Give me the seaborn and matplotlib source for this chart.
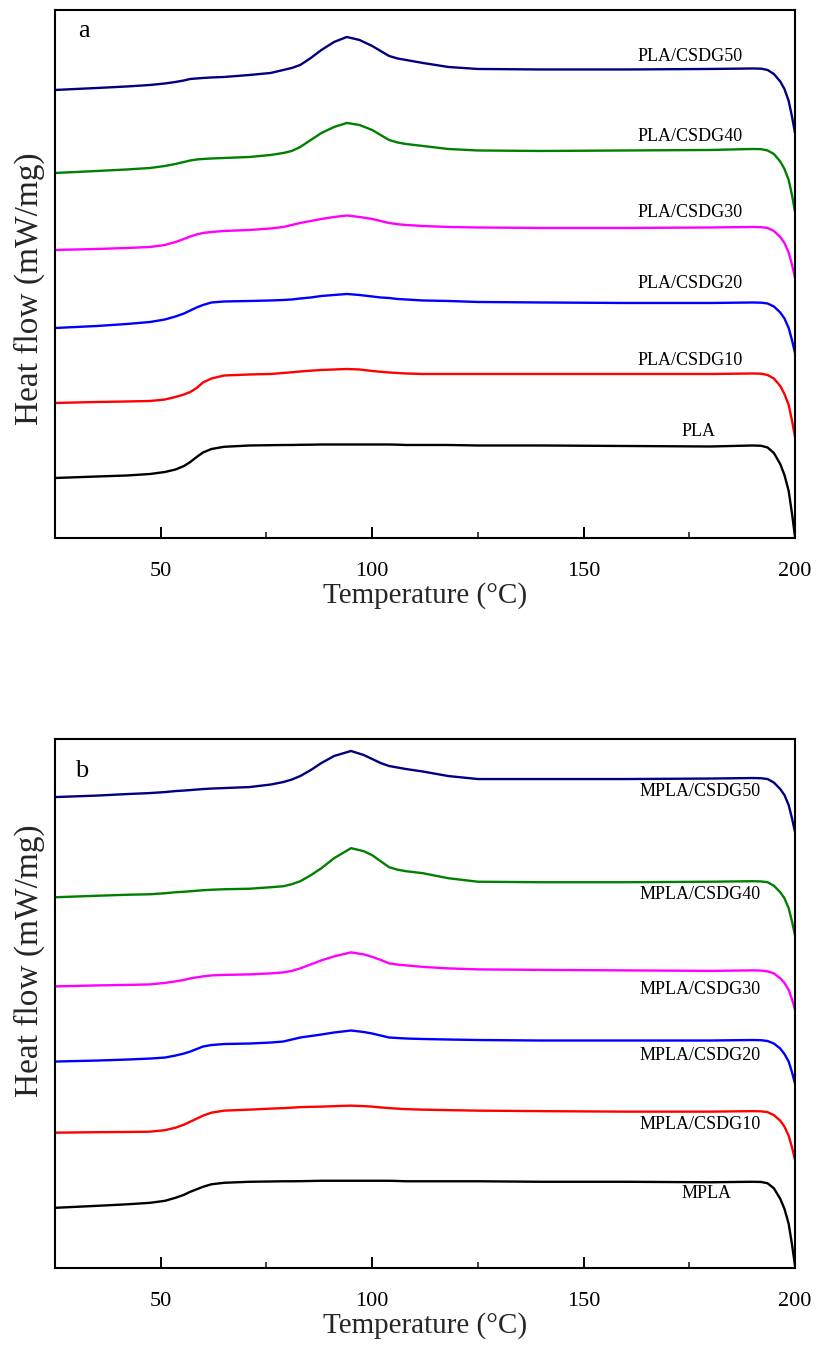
import numpy as np
import pandas as pd
import matplotlib
matplotlib.use("Agg")
import matplotlib.pyplot as plt
import seaborn as sns

# ---------------- data (arbitrary heat-flow units, curves offset) ----------------
temp_a = [25, 35, 42, 47.5, 51, 53.5, 55.5, 57, 58.5, 60, 62, 65, 71, 76, 79, 81, 83, 85.5, 88, 91,
          94, 97, 100, 102, 104, 106, 108, 112, 118, 125, 140, 160, 180, 190, 192, 193.5, 195,
          196.5, 197.5, 198.5, 199.3, 200]
temp_b = [25, 35, 42, 47.5, 51, 53.5, 55.5, 57, 58.5, 60, 62, 65, 71, 76, 79, 81, 83, 85.5, 88, 91,
          95, 98, 100, 102, 104, 106, 108, 112, 118, 125, 140, 160, 180, 190, 192, 193.5, 195,
          196.5, 197.5, 198.5, 199.3, 200]

names_a = ["PLA/CSDG50", "PLA/CSDG40", "PLA/CSDG30", "PLA/CSDG20", "PLA/CSDG10", "PLA"]
names_b = ["MPLA/CSDG50", "MPLA/CSDG40", "MPLA/CSDG30", "MPLA/CSDG20", "MPLA/CSDG10", "MPLA"]

pla_csdg50 = [4.48, 4.50, 4.515, 4.53, 4.545, 4.56, 4.575, 4.59, 4.595, 4.60, 4.605, 4.61, 4.63, 4.65,
              4.68, 4.70, 4.73, 4.80, 4.88, 4.96, 5.01, 4.98, 4.92, 4.87, 4.82, 4.795, 4.78, 4.75,
              4.71, 4.69, 4.685, 4.685, 4.69, 4.695, 4.693, 4.68, 4.64, 4.565, 4.49, 4.37, 4.21, 4.05]
pla_csdg40 = [3.65, 3.67, 3.685, 3.70, 3.72, 3.74, 3.76, 3.775, 3.785, 3.79, 3.795, 3.80, 3.81, 3.83,
              3.85, 3.87, 3.91, 3.98, 4.05, 4.11, 4.15, 4.13, 4.08, 4.03, 3.98, 3.955, 3.94, 3.92,
              3.89, 3.875, 3.87, 3.875, 3.88, 3.89, 3.888, 3.875, 3.84, 3.765, 3.69, 3.58, 3.425, 3.26]
pla_csdg30 = [2.88, 2.89, 2.90, 2.91, 2.93, 2.96, 2.99, 3.015, 3.035, 3.05, 3.06, 3.07, 3.08, 3.095,
              3.11, 3.13, 3.15, 3.17, 3.19, 3.21, 3.225, 3.21, 3.19, 3.17, 3.15, 3.138, 3.13, 3.12,
              3.11, 3.105, 3.10, 3.10, 3.105, 3.11, 3.108, 3.10, 3.07, 3.01, 2.95, 2.855, 2.73, 2.60]
pla_csdg20 = [2.10, 2.12, 2.14, 2.16, 2.185, 2.215, 2.245, 2.275, 2.305, 2.33, 2.355, 2.365, 2.37,
              2.375, 2.38, 2.385, 2.395, 2.405, 2.42, 2.43, 2.44, 2.43, 2.415, 2.405, 2.40, 2.39,
              2.385, 2.375, 2.37, 2.36, 2.355, 2.35, 2.35, 2.355, 2.353, 2.345, 2.315, 2.255, 2.195,
              2.10, 1.975, 1.85]
pla_csdg10 = [1.35, 1.36, 1.365, 1.37, 1.385, 1.41, 1.435, 1.46, 1.50, 1.555, 1.595, 1.625, 1.635,
              1.64, 1.65, 1.657, 1.665, 1.673, 1.68, 1.685, 1.69, 1.685, 1.67, 1.662, 1.655, 1.65,
              1.645, 1.64, 1.64, 1.64, 1.64, 1.64, 1.64, 1.645, 1.643, 1.63, 1.595, 1.52, 1.44, 1.33,
              1.17, 1.01]
pla = [0.60, 0.615, 0.625, 0.64, 0.66, 0.685, 0.72, 0.76, 0.81, 0.855, 0.89, 0.912, 0.925, 0.928,
       0.93, 0.93, 0.932, 0.933, 0.935, 0.935, 0.935, 0.935, 0.935, 0.935, 0.935, 0.933, 0.93, 0.93,
       0.93, 0.925, 0.925, 0.92, 0.915, 0.925, 0.922, 0.905, 0.85, 0.74, 0.63, 0.47, 0.24, 0.01]

mpla_csdg50 = [4.70, 4.715, 4.73, 4.74, 4.75, 4.76, 4.765, 4.77, 4.775, 4.78, 4.785, 4.79, 4.80,
               4.825, 4.85, 4.875, 4.91, 4.97, 5.04, 5.11, 5.16, 5.12, 5.08, 5.04, 5.01, 4.995, 4.98,
               4.955, 4.91, 4.88, 4.88, 4.88, 4.885, 4.89, 4.888, 4.88, 4.845, 4.78, 4.72, 4.62,
               4.485, 4.35]
mpla_csdg40 = [3.70, 3.715, 3.725, 3.73, 3.74, 3.75, 3.755, 3.76, 3.765, 3.77, 3.775, 3.78, 3.785,
               3.80, 3.81, 3.83, 3.86, 3.92, 3.99, 4.09, 4.19, 4.16, 4.12, 4.06, 4.00, 3.975, 3.96,
               3.94, 3.89, 3.855, 3.85, 3.85, 3.855, 3.86, 3.858, 3.85, 3.815, 3.75, 3.69, 3.59,
               3.455, 3.32]
mpla_csdg30 = [2.81, 2.82, 2.825, 2.83, 2.845, 2.86, 2.875, 2.89, 2.90, 2.91, 2.92, 2.925, 2.93,
               2.94, 2.95, 2.965, 2.99, 3.03, 3.07, 3.11, 3.15, 3.13, 3.105, 3.075, 3.04, 3.028,
               3.02, 3.005, 2.99, 2.98, 2.975, 2.97, 2.965, 2.97, 2.968, 2.96, 2.94, 2.89, 2.845,
               2.775, 2.68, 2.58]
mpla_csdg20 = [2.06, 2.07, 2.08, 2.09, 2.10, 2.12, 2.14, 2.16, 2.185, 2.21, 2.225, 2.235, 2.24,
               2.25, 2.26, 2.28, 2.30, 2.315, 2.33, 2.35, 2.37, 2.355, 2.34, 2.32, 2.30, 2.295,
               2.29, 2.285, 2.28, 2.275, 2.27, 2.27, 2.27, 2.275, 2.273, 2.265, 2.24, 2.19, 2.135,
               2.06, 1.95, 1.84]
mpla_csdg10 = [1.35, 1.355, 1.357, 1.36, 1.375, 1.40, 1.43, 1.46, 1.49, 1.52, 1.55, 1.57, 1.58,
               1.59, 1.595, 1.60, 1.605, 1.608, 1.61, 1.615, 1.62, 1.615, 1.61, 1.602, 1.595, 1.59,
               1.585, 1.58, 1.575, 1.57, 1.565, 1.56, 1.56, 1.565, 1.563, 1.555, 1.525, 1.47, 1.41,
               1.32, 1.20, 1.08]
mpla = [0.60, 0.62, 0.635, 0.65, 0.67, 0.70, 0.73, 0.76, 0.785, 0.81, 0.835, 0.85, 0.86, 0.863,
        0.865, 0.865, 0.866, 0.868, 0.87, 0.87, 0.87, 0.87, 0.87, 0.87, 0.87, 0.868, 0.865, 0.865,
        0.865, 0.865, 0.86, 0.86, 0.855, 0.86, 0.858, 0.845, 0.795, 0.69, 0.59, 0.44, 0.23, 0.02]

# label anchor points (temperature, heat flow) for curve annotations
label_x_a = [175.2, 175.2, 175.2, 175.2, 175.2, 177.1]
label_y_a = [4.77, 3.97, 3.21, 2.50, 1.73, 1.02]
label_x_b = [177.5, 177.5, 177.5, 177.5, 177.5, 179.0]
label_y_b = [4.71, 3.68, 2.73, 2.08, 1.39, 0.70]

colors = ["#000080", "#008000", "#ff00ff", "#0000ff", "#ff0000", "#000000"]
x_ticks = [50, 100, 150, 200]
x_minor = [75, 125, 175]

# ---------------- style ----------------
sns.set_theme(style="white")
plt.rcParams["font.family"] = ["Liberation Serif", "DejaVu Serif"]

fig = plt.figure(figsize=(8.16, 13.47), dpi=100)
ax_a = fig.add_axes([0.0674, 0.6006, 0.9069, 0.3920])
ax_b = fig.add_axes([0.0674, 0.0587, 0.9069, 0.3927])


def build_df(temps, names, series):
    rows = []
    for n, s in zip(names, series):
        for t, v in zip(temps, s):
            rows.append({"T": t, "HF": v, "sample": n})
    return pd.DataFrame(rows)


panels = [
    (ax_a, temp_a, names_a, [pla_csdg50, pla_csdg40, pla_csdg30, pla_csdg20, pla_csdg10, pla],
     label_x_a, label_y_a, "a", 0.031, 0.949, 0.473),
    (ax_b, temp_b, names_b, [mpla_csdg50, mpla_csdg40, mpla_csdg30, mpla_csdg20, mpla_csdg10, mpla],
     label_x_b, label_y_b, "b", 0.027, 0.928, 0.58),
]

for ax, temps, names, series, lx, ly, letter, lxp, lyp, ylab_y in panels:
    df = build_df(temps, names, series)
    sns.lineplot(data=df, x="T", y="HF", hue="sample", hue_order=names,
                 palette=colors, linewidth=1.7, legend=False, ax=ax, sort=False,
                 estimator=None)
    ax.set_xlim(25, 200)
    ax.set_ylim(0, 5.28)
    ax.set_xticks(x_ticks)
    ax.set_xticks(x_minor, minor=True)
    ax.set_yticks([])
    ax.tick_params(axis="x", which="major", direction="in", length=8, width=1.4,
                   labelsize=16, pad=17, colors="black", bottom=True, top=False)
    ax.tick_params(axis="x", which="minor", direction="in", length=4, width=1.2,
                   bottom=True, top=False)
    for sp in ax.spines.values():
        sp.set_visible(True)
        sp.set_color("black")
        sp.set_linewidth(1.5)
    ax.set_xlabel("Temperature (°C)", fontsize=21, labelpad=1)
    ax.set_ylabel("Heat flow (mW/mg)", fontsize=24)
    ax.yaxis.set_label_coords(-0.013, ylab_y)
    for n, x, y in zip(names, lx, ly):
        ax.text(x, y, n, fontsize=13, ha="center", va="baseline", color="black")
    ax.text(lxp, lyp, letter, transform=ax.transAxes, fontsize=19, ha="left",
            va="baseline", color="black")

fig.savefig("out.png", dpi=100)
